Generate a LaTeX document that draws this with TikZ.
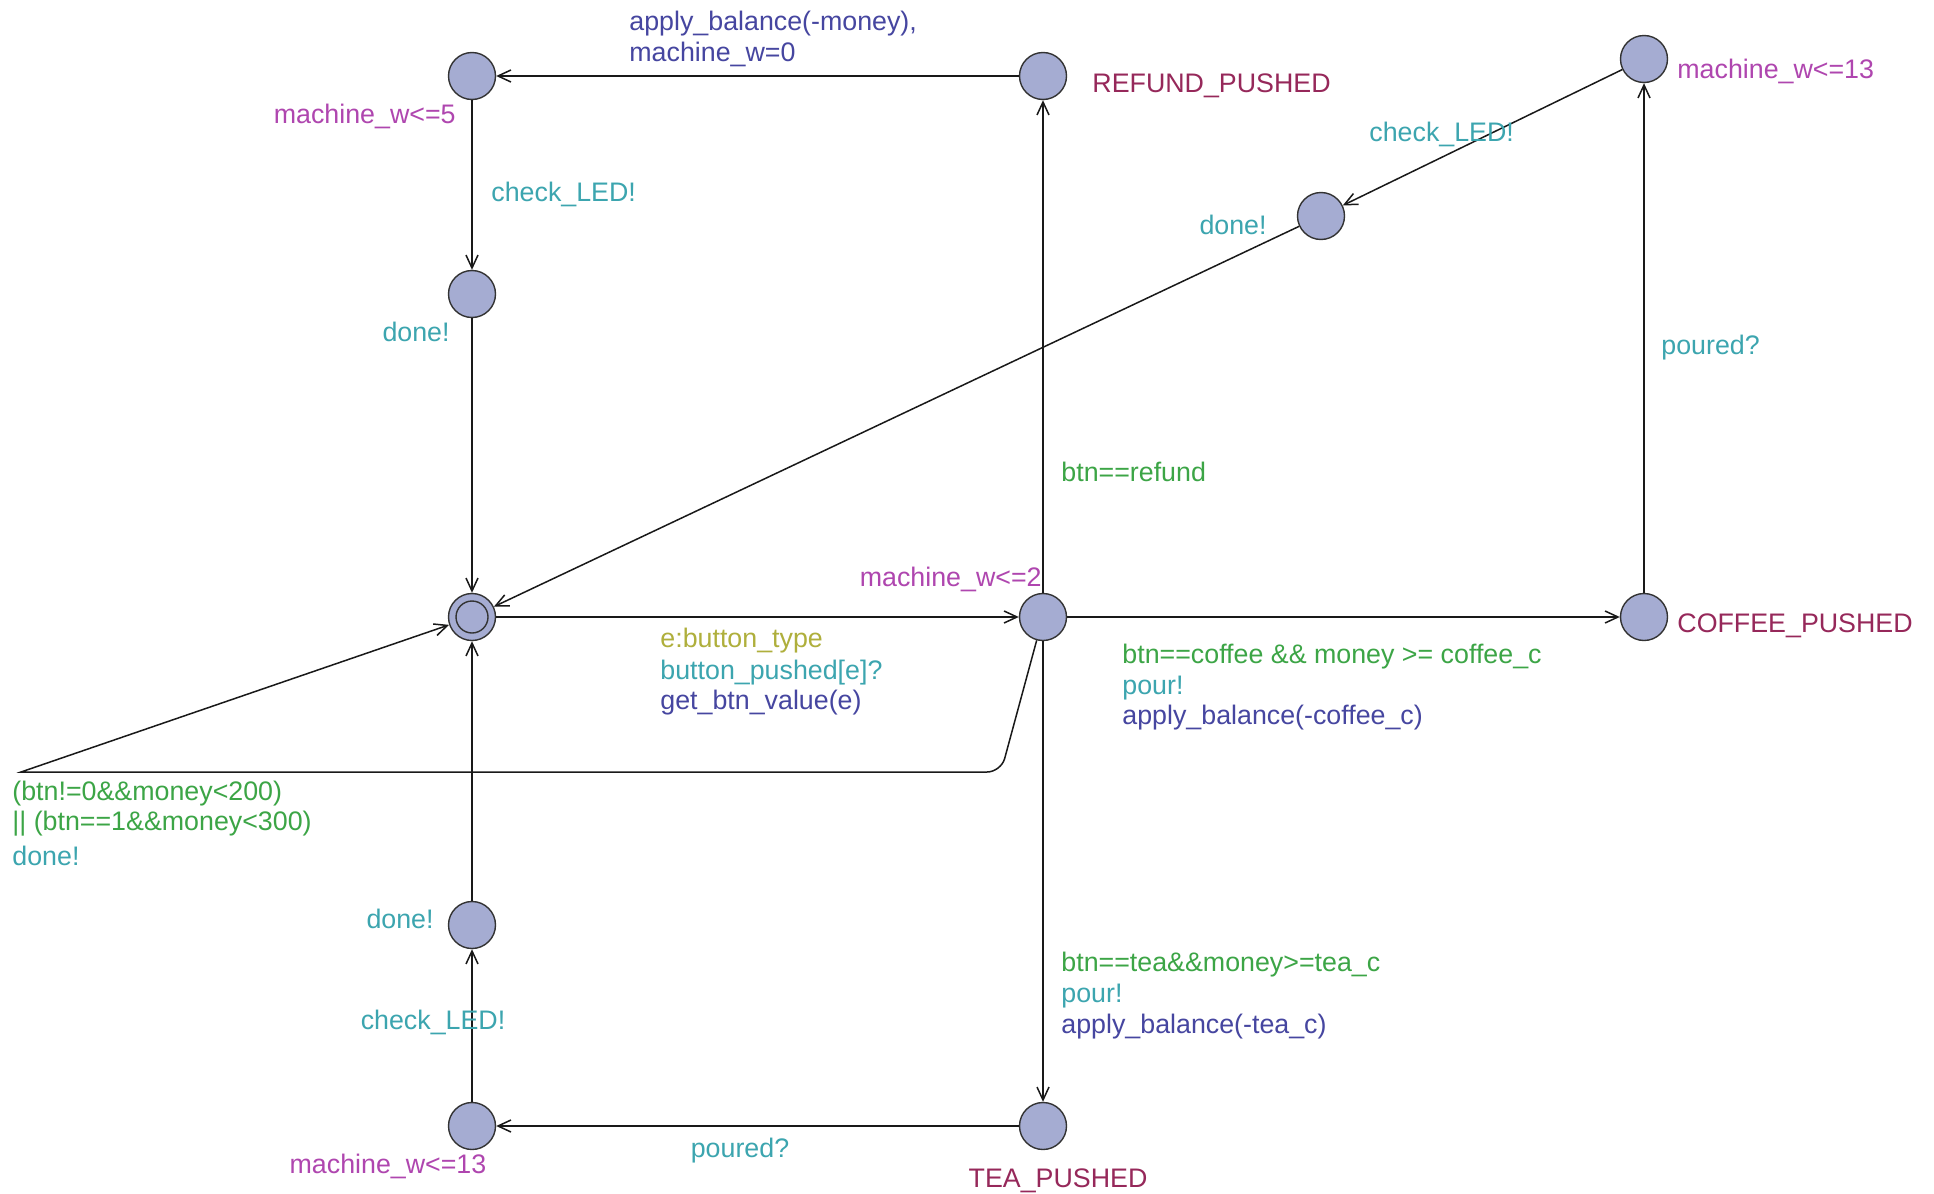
\documentclass[tikz,border=0pt]{standalone}
\usepackage{fontspec}
\setmainfont{Liberation Sans}
\usetikzlibrary{arrows.meta}
\definecolor{namecol}{RGB}{150,40,90}
\definecolor{invcol}{RGB}{175,70,175}
\definecolor{synccol}{RGB}{60,165,175}
\definecolor{guardcol}{RGB}{60,165,70}
\definecolor{updcol}{RGB}{70,70,160}
\definecolor{selcol}{RGB}{175,175,60}
\definecolor{fillcol}{RGB}{165,172,210}
\begin{document}
\begin{tikzpicture}[x=0.5pt,y=-0.5pt,
  loc/.style={circle,draw=black!80,fill=fillcol,line width=0.7pt,minimum size=23.5pt,inner sep=0pt},
  lab/.style={font=\fontsize{13.4}{15.5}\selectfont,inner sep=0pt,yshift=-1.5pt},
  edge/.style={line width=0.75pt,draw=black!90,-{Straight Barb[length=6.5pt,width=6pt]}},
]
\useasboundingbox (0,0) rectangle (1934,1194);
\fill[white] (0,0) rectangle (1934,1194);

% locations
\node[loc] (A) at (472,617) {};
\node[loc] (B) at (472,76) {};
\node[loc] (C) at (472,294) {};
\node[loc] (D) at (1043,76) {};
\node[loc] (E) at (1043,617) {};
\node[loc] (F) at (1644,59) {};
\node[loc] (G) at (1321,216) {};
\node[loc] (H) at (1644,617) {};
\node[loc] (I) at (1043,1126) {};
\node[loc] (J) at (472,1126) {};
\node[loc] (K) at (472,925) {};
\draw[line width=0.7pt,black!80] (A.center) circle[radius=8pt];

\coordinate (c1) at (1001,772);
\coordinate (c2) at (21,772);

% edges
\draw[edge] (D) -- (B);
\draw[edge] (B) -- (C);
\draw[edge] (C) -- (A);
\draw[edge] (A) -- (E);
\draw[edge] (E) -- (D);
\draw[edge] (E) -- (H);
\draw[edge] (H) -- (F);
\draw[edge] (F) -- (G);
\draw[edge] (G) -- (A);
\draw[edge] (E) [rounded corners=7pt] -- (c1) [sharp corners] -- (c2) -- (A);
\draw[edge] (E) -- (I);
\draw[edge] (I) -- (J);
\draw[edge] (J) -- (K);
\draw[edge] (K) -- (A);

% labels
\node[lab,updcol,anchor=west] (l1) at (629,21) {apply\_balance(-money),};
\node[lab,updcol,anchor=west] (l2) at (629,51) {machine\_w=0};
\node[lab,invcol,anchor=east] (l3) at (456,113) {machine\_w<=5};
\node[lab,synccol,anchor=west] (l4) at (491,191) {check\_LED!};
\node[lab,synccol,anchor=east] (l5) at (450,329) {done!};
\node[lab,namecol,anchor=west] (l6) at (1092,83) {REFUND\_PUSHED};
\node[lab,invcol,anchor=west] (l7) at (1677,68) {machine\_w<=13};
\node[lab,synccol,anchor=west] (l8) at (1369,131) {check\_LED!};
\node[lab,synccol,anchor=east] (l9) at (1267,222) {done!};
\node[lab,synccol,anchor=west] (l10) at (1661,345) {poured?};
\node[lab,guardcol,anchor=west] (l11) at (1061,469) {btn==refund};
\node[lab,invcol,anchor=east] (l12) at (1042,576) {machine\_w<=2};
\node[lab,namecol,anchor=west] (l13) at (1677,623) {COFFEE\_PUSHED};
\node[lab,selcol,anchor=west] (l14) at (660,638) {e:button\_type};
\node[lab,synccol,anchor=west] (l15) at (660,670) {button\_pushed[e]?};
\node[lab,updcol,anchor=west] (l16) at (660,700) {get\_btn\_value(e)};
\node[lab,guardcol,anchor=west] (l17) at (1122,654) {btn==coffee \&\& money >= coffee\_c};
\node[lab,synccol,anchor=west] (l18) at (1122,685) {pour!};
\node[lab,updcol,anchor=west] (l19) at (1122,715) {apply\_balance(-coffee\_c)};
\node[lab,guardcol,anchor=west] (l20) at (12,791) {(btn!=0\&\&money<200)};
\node[lab,guardcol,anchor=west] (l21) at (12,821) {|| (btn==1\&\&money<300)};
\node[lab,synccol,anchor=west] (l22) at (12,853) {done!};
\node[lab,synccol,anchor=east] (l23) at (434,916) {done!};
\node[lab,synccol] (l24) at (433,1019) {check\_LED!};
\node[lab,guardcol,anchor=west] (l25) at (1061,962) {btn==tea\&\&money>=tea\_c};
\node[lab,synccol,anchor=west] (l26) at (1061,993) {pour!};
\node[lab,updcol,anchor=west] (l27) at (1061,1024) {apply\_balance(-tea\_c)};
\node[lab,invcol] (l28) at (388,1163) {machine\_w<=13};
\node[lab,synccol] (l29) at (740,1148) {poured?};
\node[lab,namecol] (l30) at (1058,1178) {TEA\_PUSHED};
\end{tikzpicture}
\end{document}
